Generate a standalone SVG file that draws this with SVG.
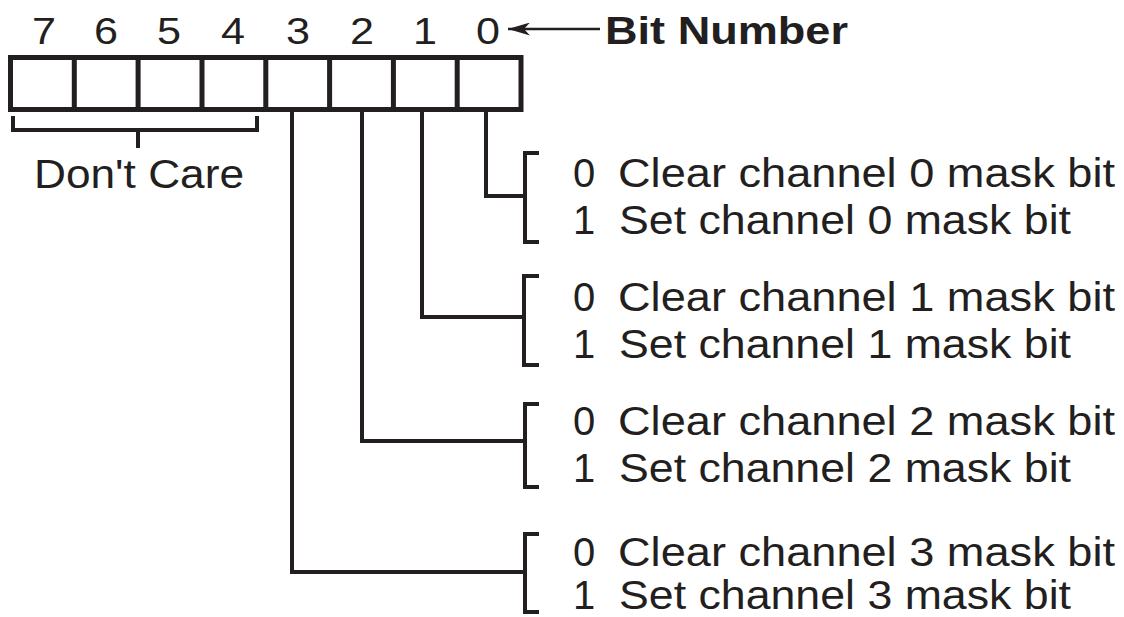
<svg xmlns="http://www.w3.org/2000/svg" width="1124" height="617" viewBox="0 0 1124 617">
<defs>
<style>
.t{font-family:"Liberation Sans",Arial,sans-serif;font-size:40px;fill:#231f20}
.d{font-family:"Liberation Sans",Arial,sans-serif;font-size:37px;fill:#231f20;text-anchor:middle}
.b{font-family:"Liberation Sans",Arial,sans-serif;font-size:38px;font-weight:bold;fill:#231f20}
.ln{fill:none;stroke:#231f20;stroke-width:4;stroke-linecap:square;stroke-linejoin:miter}
.box{fill:#fff;stroke:#231f20;stroke-width:5}
</style>
<marker id="ah" viewBox="0 0 22 13" refX="22" refY="6.5" markerWidth="22" markerHeight="13" markerUnits="userSpaceOnUse" orient="auto">
<path d="M22,6.5 L0,0 L6,6.5 L0,13 Z" fill="#231f20"/>
</marker>
</defs>
<rect width="1124" height="617" fill="#fff"/>
<g id="register">
<rect class="box" x="10.5" y="57.5" width="510.5" height="52"/>
<path class="ln" style="stroke-width:5" d="M74.3,57.5V109.5M138.1,57.5V109.5M202,57.5V109.5M265.8,57.5V109.5M329.6,57.5V109.5M393.4,57.5V109.5M457.2,57.5V109.5"/>
<text class="d" x="44" y="44" textLength="24" lengthAdjust="spacingAndGlyphs">7</text>
<text class="d" x="106" y="44" textLength="24" lengthAdjust="spacingAndGlyphs">6</text>
<text class="d" x="169" y="44" textLength="24" lengthAdjust="spacingAndGlyphs">5</text>
<text class="d" x="233" y="44" textLength="24" lengthAdjust="spacingAndGlyphs">4</text>
<text class="d" x="298" y="44" textLength="24" lengthAdjust="spacingAndGlyphs">3</text>
<text class="d" x="362" y="44" textLength="24" lengthAdjust="spacingAndGlyphs">2</text>
<text class="d" x="425" y="44" textLength="24" lengthAdjust="spacingAndGlyphs">1</text>
<text class="d" x="488" y="44" textLength="24" lengthAdjust="spacingAndGlyphs">0</text>
</g>
<g id="bit-number">
<text class="b" x="605" y="44" textLength="243" lengthAdjust="spacingAndGlyphs">Bit Number</text>
</g>
<g id="dont-care">
<path class="ln" d="M13,118V130H257V118M138,130V146"/>
<text class="t" x="34" y="188" textLength="210" lengthAdjust="spacingAndGlyphs">Don't Care</text>
</g>
<g id="connectors">
<path class="ln" d="M486,112V196H524"/>
<path class="ln" d="M422,112V317H523"/>
<path class="ln" d="M362,112V441H524"/>
<path class="ln" d="M292,112V572H524"/>
<line x1="600" y1="29" x2="508" y2="29" stroke="#231f20" stroke-width="2.5" marker-end="url(#ah)"/>
</g>
<g id="bit0">
<path class="ln" d="M537,153H525V242H537"/>
<text class="t" x="573" y="187">0</text>
<text class="t" x="618" y="187" textLength="497" lengthAdjust="spacingAndGlyphs">Clear channel 0 mask bit</text>
<text class="t" x="573" y="234">1</text>
<text class="t" x="619" y="234" textLength="452" lengthAdjust="spacingAndGlyphs">Set channel 0 mask bit</text>
</g>
<g id="bit1">
<path class="ln" d="M537,276H524V365H537"/>
<text class="t" x="573" y="311">0</text>
<text class="t" x="618" y="311" textLength="497" lengthAdjust="spacingAndGlyphs">Clear channel 1 mask bit</text>
<text class="t" x="573" y="358">1</text>
<text class="t" x="619" y="358" textLength="452" lengthAdjust="spacingAndGlyphs">Set channel 1 mask bit</text>
</g>
<g id="bit2">
<path class="ln" d="M537,404H525V487H537"/>
<text class="t" x="573" y="435">0</text>
<text class="t" x="618" y="435" textLength="497" lengthAdjust="spacingAndGlyphs">Clear channel 2 mask bit</text>
<text class="t" x="573" y="482">1</text>
<text class="t" x="619" y="482" textLength="452" lengthAdjust="spacingAndGlyphs">Set channel 2 mask bit</text>
</g>
<g id="bit3">
<path class="ln" d="M537,534H525V612H537"/>
<text class="t" x="573" y="566">0</text>
<text class="t" x="618" y="566" textLength="497" lengthAdjust="spacingAndGlyphs">Clear channel 3 mask bit</text>
<text class="t" x="573" y="609">1</text>
<text class="t" x="619" y="609" textLength="452" lengthAdjust="spacingAndGlyphs">Set channel 3 mask bit</text>
</g>
</svg>
